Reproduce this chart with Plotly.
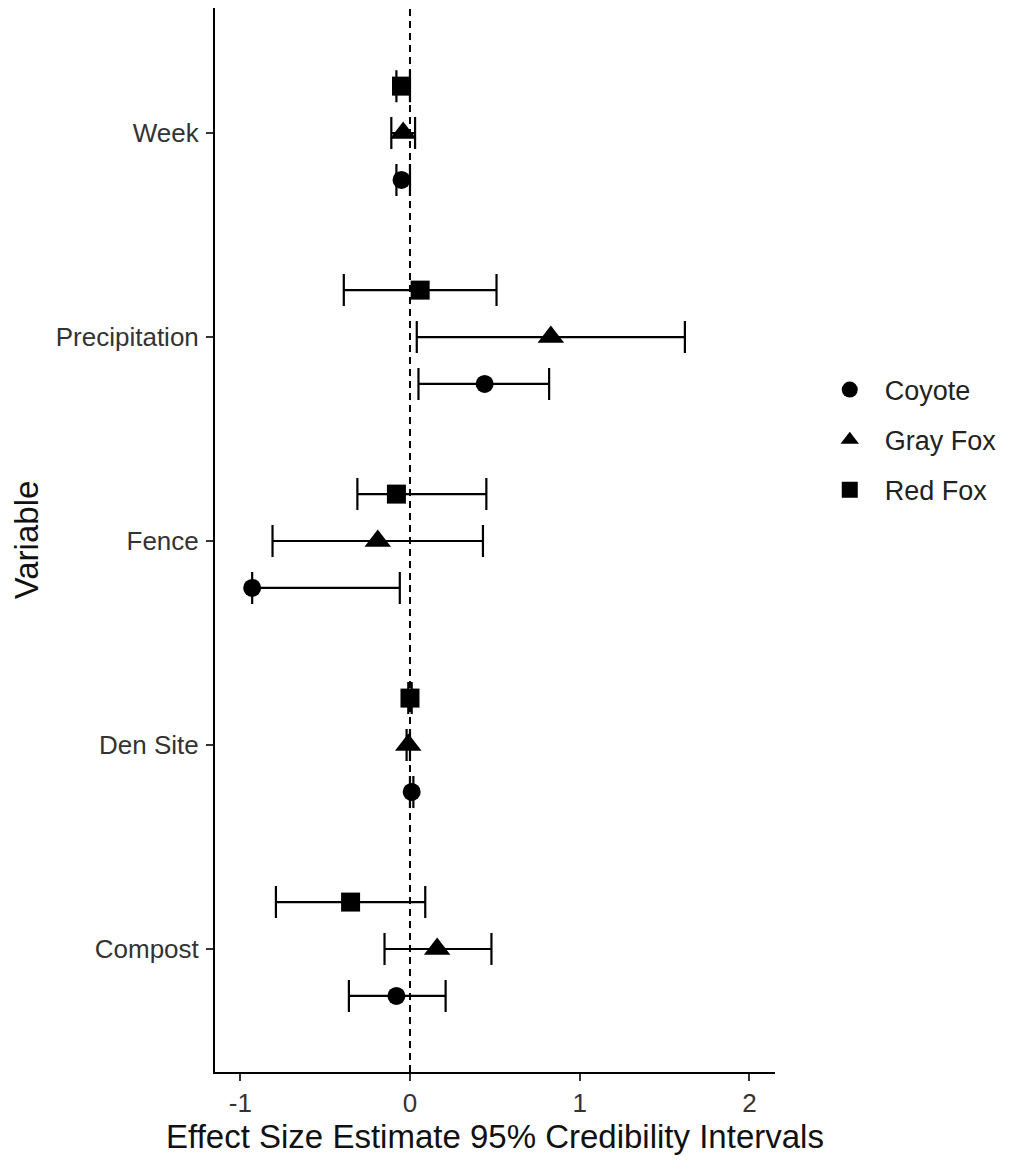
import plotly.graph_objects as go

variables = ["Compost", "Den Site", "Fence", "Precipitation", "Week"]
var_pos = [1, 2, 3, 4, 5]

species = ["Coyote", "Gray Fox", "Red Fox"]
symbols = ["circle", "triangle-up", "square"]
sizes = [18, 23, 19]
offsets = [-0.23, 0.0, 0.23]

# order within each list follows `variables`
coyote_est = [-0.08, 0.01, -0.93, 0.44, -0.05]
coyote_lo = [-0.36, 0.0, -0.93, 0.05, -0.08]
coyote_hi = [0.21, 0.02, -0.06, 0.82, 0.0]

gray_est = [0.16, -0.01, -0.19, 0.83, -0.04]
gray_lo = [-0.15, -0.02, -0.81, 0.04, -0.11]
gray_hi = [0.48, 0.0, 0.43, 1.62, 0.03]

red_est = [-0.35, 0.0, -0.08, 0.06, -0.05]
red_lo = [-0.79, -0.01, -0.31, -0.39, -0.08]
red_hi = [0.09, 0.01, 0.45, 0.51, 0.0]

series = [
    (coyote_est, coyote_lo, coyote_hi),
    (gray_est, gray_lo, gray_hi),
    (red_est, red_lo, red_hi),
]

x_ticks = [-1, 0, 1, 2]

fig = go.Figure()
for name, sym, sz, off, (est, lo, hi) in zip(species, symbols, sizes, offsets, series):
    fig.add_trace(go.Scatter(
        x=est,
        y=[p + off for p in var_pos],
        mode="markers",
        name=name,
        legendgroup=name,
        marker=dict(symbol=sym, size=sz, color="black"),
        error_x=dict(
            type="data",
            symmetric=False,
            array=[h - e for h, e in zip(hi, est)],
            arrayminus=[e - l for e, l in zip(est, lo)],
            color="black",
            thickness=2.2,
            width=16,
        ),
    ))

fig.add_vline(x=0, line=dict(color="black", width=2, dash="7px,5px"), layer="below")

fig.update_layout(
    width=1001,
    height=1152,
    margin=dict(l=207, r=234, t=0, b=88),
    plot_bgcolor="white",
    paper_bgcolor="white",
    font=dict(family="Liberation Sans, Arial, sans-serif", color="#222"),
    showlegend=True,
    legend=dict(
        x=1.071, xanchor="left",
        y=0.594, yanchor="middle",
        font=dict(size=27, color="#222"),
        tracegroupgap=12,
        itemwidth=60,
        bgcolor="rgba(0,0,0,0)",
    ),
    xaxis=dict(
        range=[-1.149, 2.151],
        tickvals=x_ticks,
        ticktext=[str(t) for t in x_ticks],
        showgrid=False,
        zeroline=False,
        showline=True,
        linecolor="black",
        linewidth=2,
        ticks="outside",
        ticklen=7,
        tickwidth=2,
        tickcolor="#333",
        tickfont=dict(size=26, color="#333"),
        automargin=False,
        title=dict(text="Effect Size Estimate 95% Credibility Intervals",
                   font=dict(size=33, color="#111"), standoff=6),
    ),
    yaxis=dict(
        range=[0.397, 5.613],
        tickvals=var_pos,
        ticktext=variables,
        showgrid=False,
        zeroline=False,
        showline=True,
        linecolor="black",
        linewidth=2,
        ticks="outside",
        ticklen=7,
        tickwidth=2,
        tickcolor="#333",
        tickfont=dict(size=26, color="#333"),
        ticklabelstandoff=2,
        automargin=False,
        title=dict(text="Variable", font=dict(size=33, color="#111"), standoff=10),
    ),
)

fig.write_html("out.html")
